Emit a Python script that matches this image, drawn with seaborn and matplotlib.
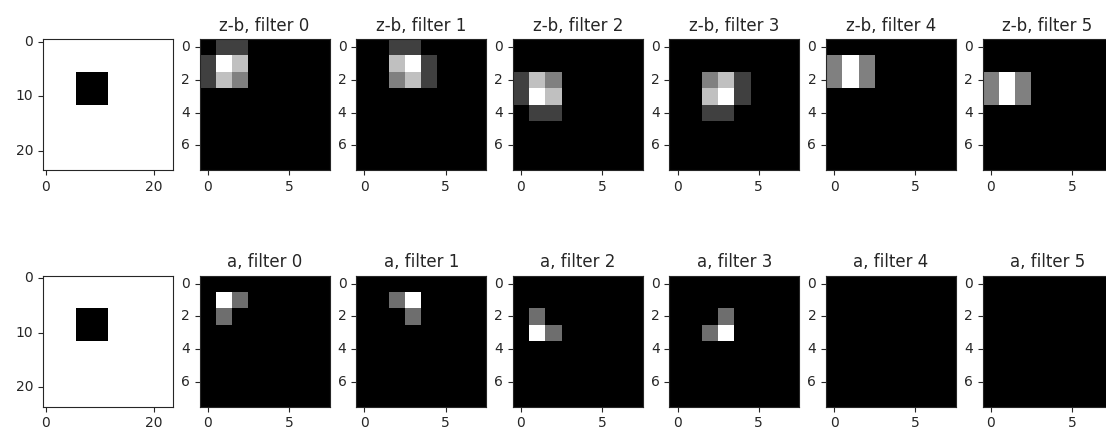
import matplotlib
matplotlib.use("Agg")
import matplotlib.pyplot as plt
import numpy as np
import seaborn as sns

sns.set_style("ticks")
plt.rcParams["font.family"] = ["DejaVu Sans"]

# input picture: white 24x24 with a black square
IN_SIZE = 24
SQ_ROWS = (6, 12)
SQ_COLS = (6, 12)

MAP_SIZE = 8

# z-b patches (values) and their top-left offsets (row, col)
ZB_PATCH_0 = [[0.0, 0.25, 0.25],
              [0.25, 1.0, 0.75],
              [0.25, 0.75, 0.5]]
ZB_PATCH_1 = [[0.25, 0.25, 0.0],
              [0.75, 1.0, 0.25],
              [0.5, 0.75, 0.25]]
ZB_PATCH_2 = [[0.25, 0.75, 0.5],
              [0.25, 1.0, 0.75],
              [0.0, 0.25, 0.25]]
ZB_PATCH_3 = [[0.5, 0.75, 0.25],
              [0.75, 1.0, 0.25],
              [0.25, 0.25, 0.0]]
ZB_PATCH_4 = [[0.5, 1.0, 0.5],
              [0.5, 1.0, 0.5]]
ZB_PATCH_5 = [[0.5, 1.0, 0.5],
              [0.5, 1.0, 0.5]]
ZB_PATCHES = [ZB_PATCH_0, ZB_PATCH_1, ZB_PATCH_2, ZB_PATCH_3, ZB_PATCH_4, ZB_PATCH_5]
ZB_OFFSETS = [(0, 0), (0, 2), (2, 0), (2, 2), (1, 0), (2, 0)]

# a patches
A_PATCH_0 = [[1.0, 0.43],
             [0.43, 0.0]]
A_PATCH_1 = [[0.43, 1.0],
             [0.0, 0.43]]
A_PATCH_2 = [[0.43, 0.0],
             [1.0, 0.43]]
A_PATCH_3 = [[0.0, 0.43],
             [0.43, 1.0]]
A_PATCH_4 = [[0.0]]
A_PATCH_5 = [[0.0]]
A_PATCHES = [A_PATCH_0, A_PATCH_1, A_PATCH_2, A_PATCH_3, A_PATCH_4, A_PATCH_5]
A_OFFSETS = [(1, 1), (1, 2), (2, 1), (2, 2), (0, 0), (0, 0)]

ROW_NAMES = ["z-b", "a"]


def construir_mapa(patch, offset):
    mapa = np.zeros((MAP_SIZE, MAP_SIZE))
    p = np.array(patch)
    r, c = offset
    mapa[r:r + p.shape[0], c:c + p.shape[1]] = p
    return mapa


def imagem_entrada():
    img = np.ones((IN_SIZE, IN_SIZE))
    img[SQ_ROWS[0]:SQ_ROWS[1], SQ_COLS[0]:SQ_COLS[1]] = 0.0
    return img


def desenhar(ax, dados, xticks, yticks, titulo=None):
    sns.heatmap(dados, cmap="gray", cbar=False, ax=ax)
    ax.set_xticks([t + 0.5 for t in xticks])
    ax.set_xticklabels([str(t) for t in xticks], rotation=0)
    ax.set_yticks([t + 0.5 for t in yticks])
    ax.set_yticklabels([str(t) for t in yticks], rotation=0)
    for s in ax.spines.values():
        s.set_visible(True)
        s.set_linewidth(0.8)
        s.set_color(".15")
    ax.tick_params(length=3.5, width=0.8, labelsize=10, pad=3.5)
    if titulo:
        ax.set_title(titulo, fontsize=12, pad=6)


W, H = 1106, 430
fig = plt.figure(figsize=(W / 100, H / 100), dpi=100)

col_left = [43 + i * 156.6 for i in range(7)]
row_top = [39, 275.5]
ax_w, ax_h = 130, 131

for linha in range(2):
    top = row_top[linha]
    ax = fig.add_axes([col_left[0] / W, (H - top - ax_h) / H, ax_w / W, ax_h / H])
    desenhar(ax, imagem_entrada(), [0, 20], [0, 10, 20])
    patches = ZB_PATCHES if linha == 0 else A_PATCHES
    offsets = ZB_OFFSETS if linha == 0 else A_OFFSETS
    for k in range(6):
        ax = fig.add_axes([col_left[k + 1] / W, (H - top - ax_h) / H, ax_w / W, ax_h / H])
        desenhar(ax, construir_mapa(patches[k], offsets[k]), [0, 5], [0, 2, 4, 6],
                 titulo=f"{ROW_NAMES[linha]}, filter {k}")

fig.savefig("out.png", dpi=100)
